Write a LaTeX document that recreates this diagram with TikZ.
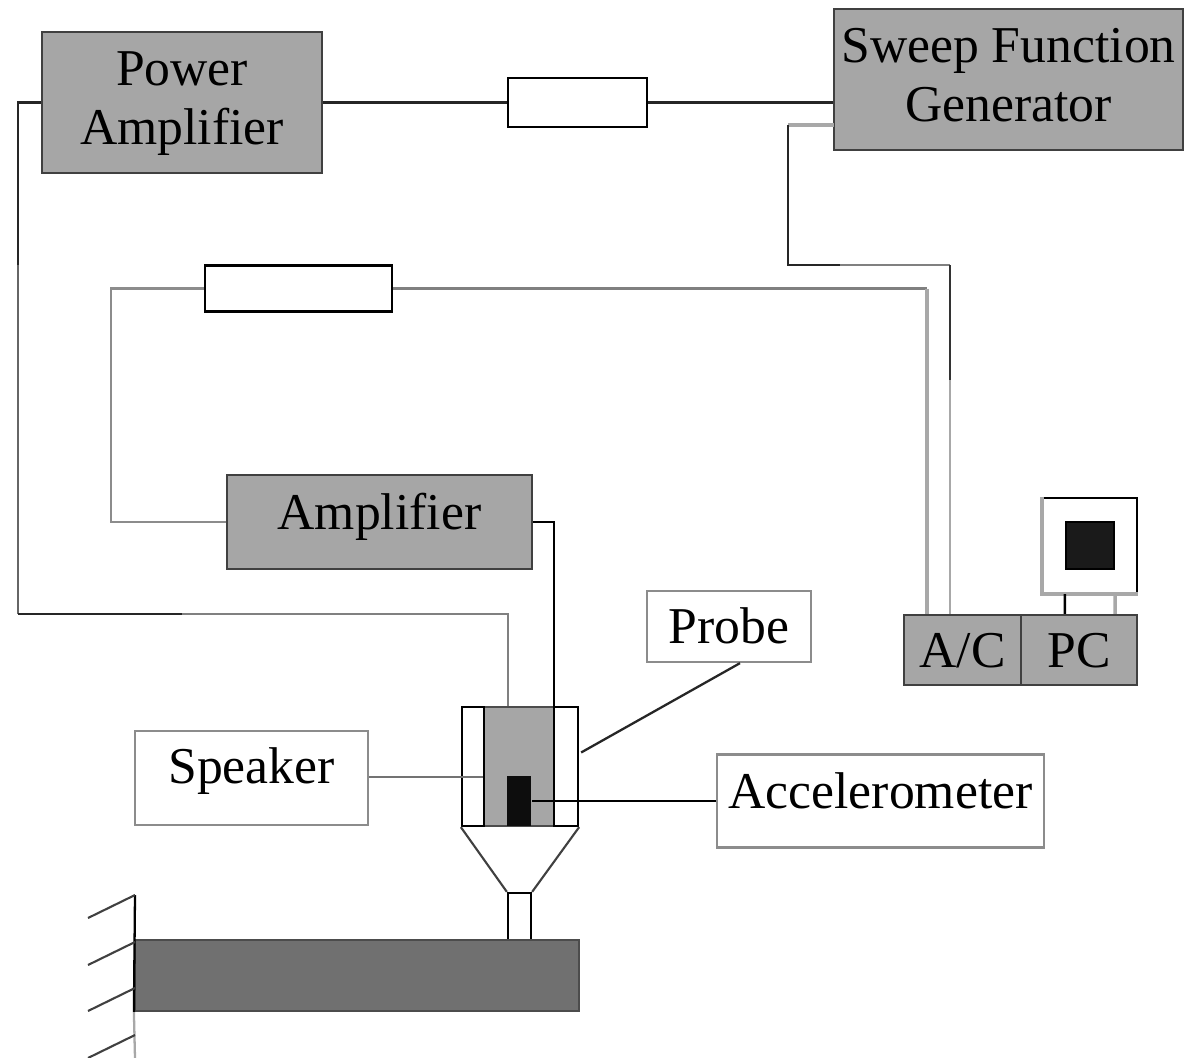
\documentclass[tikz,border=0pt]{standalone}
\usepackage{fontspec}
\setmainfont{Liberation Serif}
\usetikzlibrary{calc}
\definecolor{boxgrey}{HTML}{A6A6A6}
\definecolor{wiregrey}{HTML}{A8A8A8}
\definecolor{beamgrey}{HTML}{707070}
\definecolor{darkfill}{HTML}{1A1A1A}

\begin{document}
\begin{tikzpicture}[
    x=0.02cm, y=-0.02cm,
    every node/.style={font=\fontsize{29.4}{33.5}\selectfont, align=center, inner sep=0pt, line width=1.3pt},
    instr/.style={draw=black!75, fill=boxgrey},
    plain/.style={draw=black, fill=white},
    lblbox/.style={draw=black!45, fill=white},
    wire/.style={line width=1.3pt, black!85},
    greywire/.style={line width=1.5pt, wiregrey},
    part/.style={draw=black, line width=1.3pt}
]
\useasboundingbox (0,0) rectangle (1187,1058);
% Instruments
\node[instr, minimum width=5.6cm, minimum height=2.82cm, text depth=5pt] (pamp) at (182,102.5) {Power\\Amplifier};
\node[instr, minimum width=6.98cm, minimum height=2.82cm, text depth=5pt] (sweep) at (1008.5,79.5) {Sweep Function\\Generator};
\node[instr, minimum width=6.1cm, minimum height=1.88cm, text depth=12pt] (amp) at (379.5,522) {Amplifier};
\node[instr, minimum width=2.34cm, minimum height=1.4cm, text depth=0pt] (ac) at (962.5,650) {A/C};
\node[instr, minimum width=2.32cm, minimum height=1.4cm, text depth=0pt] (pc) at (1079,650) {PC};
% Resistors
\node[plain, minimum width=2.78cm, minimum height=0.98cm] (res1) at (577.5,102.5) {};
\node[plain, minimum width=3.74cm, minimum height=0.92cm] (res2) at (298.5,288.5) {};
% Monitor
\node[plain, minimum width=1.88cm, minimum height=1.9cm] (mon) at (1090,545.5) {};
\draw[greywire, line width=2pt] (mon.north west) -- (mon.south west) -- (mon.south east);
\node[fill=darkfill, draw=black, minimum width=0.96cm, minimum height=0.94cm] (screen) at (1090,545.5) {};
% Labels
\node[lblbox, minimum width=3.28cm, minimum height=1.42cm, text depth=0.5pt] (probe) at (729,626.5) {Probe};
\node[lblbox, minimum width=4.66cm, minimum height=1.88cm, text depth=14.3pt] (spk) at (251.5,778) {Speaker};
\node[lblbox, minimum width=6.54cm, minimum height=1.86cm, text depth=12.3pt] (acc) at (880.5,801) {Accelerometer};
% Speaker and probe holder
\node[fill=boxgrey, draw=black!70, minimum width=1.4cm, minimum height=2.38cm] (core) at (519,766.5) {};
\node[part, fill=white, minimum width=0.44cm, minimum height=2.38cm] (sleevel) at (473,766.5) {};
\node[part, fill=white, minimum width=0.48cm, minimum height=2.38cm] (sleever) at (566,766.5) {};
\node[fill=black!95, minimum width=0.48cm, minimum height=1cm] (sensor) at (519,801) {};
\node[part, fill=white, minimum width=0.46cm, minimum height=0.94cm] (stem) at (519.5,916.5) {};
\draw[black!75, line width=1.2pt] (sleevel.south west) -- (stem.north west);
\draw[black!75, line width=1.2pt] (sleever.south east) -- (stem.north east);
% Beam and wall
\node[draw=black!70, fill=beamgrey, minimum width=8.88cm, minimum height=1.42cm] (beam) at (357,975.5) {};
\coordinate (walltop) at (135,895);
\coordinate (wallbot) at (135,1058);
\draw[black, line width=1.3pt] (walltop) -- (beam.south west);
\draw[wiregrey, line width=1.3pt] (beam.south west) -- (wallbot);
\foreach \yy in {895,942,988,1035}
    \draw[black!75, line width=1.2pt] (135,\yy) -- (88,\yy+23);
% Upper wires
\draw[wire] (pamp.east) -- (res1.west);
\draw[wire] (res1.east) -- (sweep.west |- res1.east);
\coordinate (pa1) at (18,102.5);
\coordinate (pa2) at (18,265);
\coordinate (pa3) at (18,614);
\coordinate (pa4) at (182,614);
\coordinate (pa5) at (508,614);
\draw[wire] (pamp.west) -- (pa1) -- (pa2);
\draw[line width=1.3pt, black!60] (pa2) -- (pa3);
\draw[wire] (pa3) -- (pa4);
\draw[line width=1.3pt, black!50] (pa4) -- (pa5) -- (pa5 |- core.north);
% Generator to A/C
\coordinate (sg1) at (834,125);
\coordinate (sg2) at (788,125);
\coordinate (sg3) at (788,265);
\coordinate (sg4) at (840,265);
\coordinate (sg5) at (950,265);
\coordinate (sg6) at (950,380);
\draw[greywire, line width=2pt] (sg1) -- (sg2);
\draw[wire] (sg2) -- (sg3) -- (sg4);
\draw[line width=1.3pt, black!50] (sg4) -- (sg5);
\draw[line width=1.3pt, black!80] (sg5) -- (sg6);
\draw[greywire] (sg6) -- (sg6 |- ac.north);
% Amplifier loop
\coordinate (am1) at (927,288.5);
\coordinate (am2) at (111,288.5);
\coordinate (am3) at (111,522);
\draw[line width=1.3pt, black!50] (res2.east) -- (am1);
\draw[greywire, line width=2pt] (am1) -- (am1 |- ac.north);
\draw[line width=1.3pt, black!45] (res2.west) -- (am2) -- (am3) -- (amp.west);
\coordinate (am4) at (554,522);
\draw[wire, black] (amp.east) -- (am4) -- (am4 |- core.south);
% Labels to the holder
\draw[line width=1.3pt, black!55] (spk.east |- core.west) ++(0,10.5) -- ($(core.west)+(0,10.5)$);
\draw[wire] (probe.south) ++(11,0) -- ($(sleever.east)+(2,-14)$);
\draw[wire, black] (sensor.east) -- (acc.west);
% PC to monitor
\draw[wire, black] (mon.south west) ++(23,0) -- ($(pc.north west)+(45,0)$);
\draw[greywire, line width=2pt] (mon.south east) ++(-23,0) -- ($(pc.north east)+(-23,0)$);
\end{tikzpicture}
\end{document}
